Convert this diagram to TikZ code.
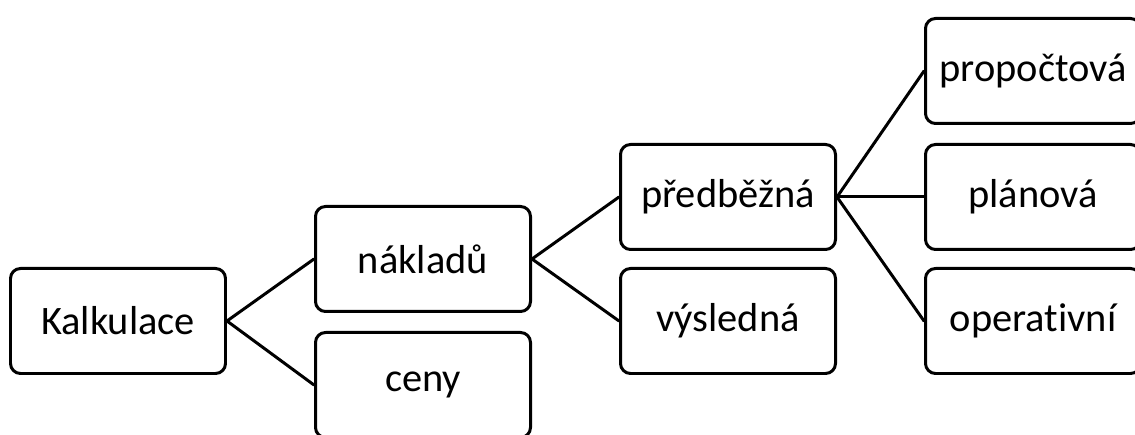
\documentclass[tikz,border=0pt]{standalone}
\usepackage{fontspec}
\setmainfont{Carlito}[Ligatures=NoCommon]
\usepackage{tikz}

\begin{document}
\begin{tikzpicture}[line cap=round, line join=round,
    box/.style={draw, line width=1.7pt, rounded corners=0.2cm, minimum width=4.3cm, minimum height=2.1cm, inner sep=0pt, font=\fontsize{23}{27}\selectfont},
    link/.style={line width=1.7pt}]

        % Frame of the picture
        \useasboundingbox (0,0) rectangle (22.7,8.7);

        % First level
        \node[box] (kalkulace) at (2.36,2.28) {Kalkulace};

        % Second level
        \node[box] (naklady) at (8.46,3.52) {nákladů};
        \node[box] (ceny) at (8.46,1.0) {ceny};

        % Third level
        \node[box] (predbezna) at (14.56,4.76) {předběžná};
        \node[box] (vysledna) at (14.56,2.28) {výsledná};

        % Fourth level
        \node[box] (propoctova) at (20.66,7.28) {propočtová};
        \node[box] (planova) at (20.66,4.76) {plánová};
        \node[box] (operativni) at (20.66,2.28) {operativní};

        % Connectors
        \draw[link] (kalkulace.east) -- (naklady.west);
        \draw[link] (kalkulace.east) -- (ceny.west);
        \draw[link] (naklady.east) -- (predbezna.west);
        \draw[link] (naklady.east) -- (vysledna.west);
        \draw[link] (predbezna.east) -- (propoctova.west);
        \draw[link] (predbezna.east) -- (planova.west);
        \draw[link] (predbezna.east) -- (operativni.west);
    \end{tikzpicture}
\end{document}
